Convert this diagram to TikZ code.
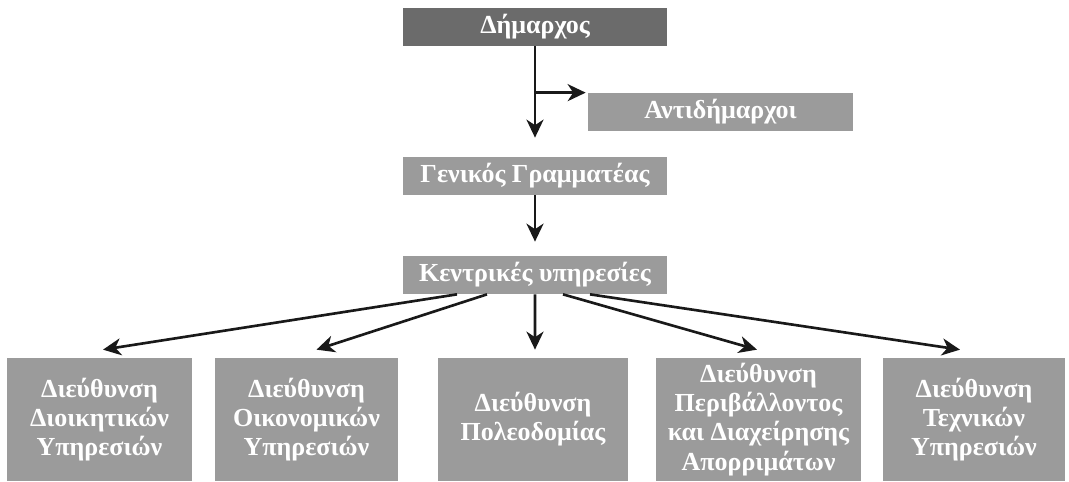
\documentclass[tikz,border=0pt]{standalone}
\usepackage{fontspec}
\setmainfont{Liberation Serif}
\usetikzlibrary{arrows.meta}
\definecolor{boxgray}{HTML}{9B9B9B}
\definecolor{headgray}{HTML}{6B6B6B}

\begin{document}
\begin{tikzpicture}[x=0.02cm,y=-0.02cm,
	unit/.style={fill=boxgray,text=white,inner sep=0pt,align=center,
		font=\fontsize{14.8}{16.6}\selectfont\bfseries},
	bar/.style={unit,minimum width=5.3cm,minimum height=0.76cm},
	dept/.style={unit,minimum height=2.46cm},
	arr/.style={-{Stealth[length=0.36cm,width=0.34cm,inset=0.11cm]},line width=1.5pt,black!90}]

	\useasboundingbox (0,0) rectangle (1069,482);
	
	\node[bar,fill=headgray] (mayor) at (535,27) {Δήμαρχος};
	\node[bar] (deputies) at (720.5,112) {Αντιδήμαρχοι};
	\node[bar] (secretary) at (535,176) {Γενικός Γραμματέας};
	\node[bar] (central) at (535,275) {Κεντρικές υπηρεσίες};
	
	\node[dept,minimum width=3.7cm] (d1) at (99.5,419.5) {Διεύθυνση\\Διοικητικών\\Υπηρεσιών};
	\node[dept,minimum width=3.66cm] (d2) at (306.5,419.5) {Διεύθυνση\\Οικονομικών\\Υπηρεσιών};
	\node[dept,minimum width=3.8cm] (d3) at (533,419.5) {Διεύθυνση\\Πολεοδομίας};
	\node[dept,minimum width=4.1cm] (d4) at (758.5,419.5) {Διεύθυνση\\Περιβάλλοντος\\και Διαχείρησης\\Απορριμάτων};
	\node[dept,minimum width=3.64cm] (d5) at (974,419.5) {Διεύθυνση\\Τεχνικών\\Υπηρεσιών};
	
	\draw[arr] (mayor.south) -- ([yshift=0.38cm]secretary.north);
	\coordinate (split) at (mayor.south |- deputies.north);
	\draw[arr] (split) -- ([xshift=-0.04cm]split -| deputies.west);
	\draw[arr] (secretary.south) -- ([yshift=0.28cm]central.north);
	
	\foreach \d/\s/\e in {d1/-1.56/0.07, d2/-0.96/0.2, d3/0/0.04, d4/0.56/-0.03, d5/1.1/-0.28}
		\draw[arr] ([xshift=\s cm]central.south) -- ([xshift=\e cm,yshift=0.16cm]\d.north);
\end{tikzpicture}
\end{document}
